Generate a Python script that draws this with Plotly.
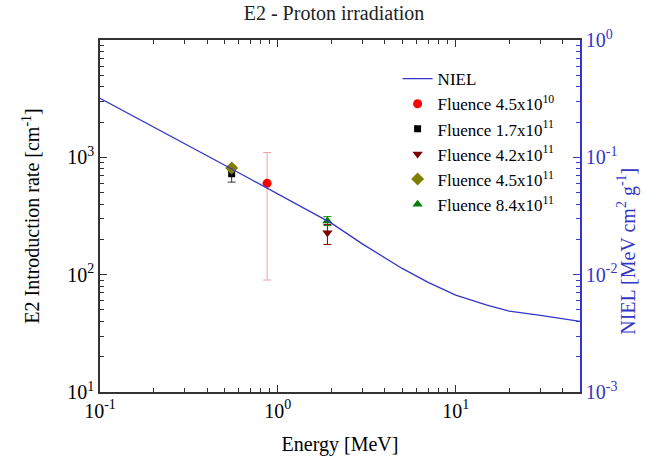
import math
import plotly.graph_objects as go

# NIEL curve for protons in Si (MeV cm^2 g^-1) versus proton energy (MeV)
niel_energy = [0.1, 0.2, 0.3, 0.5, 0.7, 1.0, 1.5, 2.0, 3.0, 4.0, 5.0, 7.0,
               10.0, 15.0, 20.0, 30.0, 40.0, 50.0]
niel_value = [0.3185, 0.180, 0.131, 0.086, 0.0653, 0.0487, 0.0351, 0.0275,
              0.0182, 0.0140, 0.0113, 0.0086, 0.0067, 0.0055, 0.0049,
              0.0045, 0.0042, 0.0040]

# Measured E2 introduction rates (cm^-1) for each fluence
fluence_names = ["Fluence 4.5x10<sup>10</sup>", "Fluence 1.7x10<sup>11</sup>",
                 "Fluence 4.2x10<sup>11</sup>", "Fluence 4.5x10<sup>11</sup>",
                 "Fluence 8.4x10<sup>11</sup>"]
fluence_energy = [0.87, 0.55, 1.90, 0.55, 1.90]
fluence_rate = [600, 725, 228, 810, 287]
fluence_err_plus = [500, 110, 40, 40, 25]
fluence_err_minus = [510, 110, 47, 40, 25]

marker_colors = ["#ff0000", "#000000", "#7a0000", "#808000", "#008000"]
error_colors = ["#e8a4a4", "#333333", "#7a0000", "#808000", "#008000"]
marker_symbols = ["circle", "square", "triangle-down", "diamond", "triangle-up"]
marker_sizes = [9, 7, 9, 10, 9]

blue = "#3535c8"
dark = "#333333"
font_family = "Liberation Serif"


def minor_values(lo_exp, hi_exp):
    """Positions of the 2..9 sub-decade ticks between two decades."""
    vals = []
    for e in range(lo_exp, hi_exp):
        for m in range(2, 10):
            vals.append(m * 10.0 ** e)
    return vals


fig = go.Figure()

fig.add_trace(go.Scatter(
    x=niel_energy, y=niel_value, mode="lines", name="NIEL",
    line=dict(color=blue, width=1.3), yaxis="y2",
))

for i, name in enumerate(fluence_names):
    fig.add_trace(go.Scatter(
        x=[fluence_energy[i]], y=[fluence_rate[i]], mode="markers", name=name,
        marker=dict(color=marker_colors[i], symbol=marker_symbols[i],
                    size=marker_sizes[i], line=dict(width=0)),
        error_y=dict(type="data", symmetric=False,
                     array=[fluence_err_plus[i]],
                     arrayminus=[fluence_err_minus[i]],
                     color=error_colors[i], thickness=1, width=4),
        yaxis="y",
    ))

tick_font = dict(family=font_family, size=20, color="#000000")
title_font = dict(family=font_family, size=20, color="#000000")

fig.update_layout(
    width=668, height=468,
    margin=dict(l=100, r=88, t=40, b=76),
    paper_bgcolor="white", plot_bgcolor="white",
    font=dict(family=font_family, size=18, color="#000000"),
    title=dict(text="E2 - Proton irradiation", x=0.5, xanchor="center",
               y=0.972, yanchor="middle",
               font=dict(family=font_family, size=20, color="#222222")),
    showlegend=True,
    legend=dict(x=0.62, y=0.94, xanchor="left", yanchor="top",
                bgcolor="rgba(0,0,0,0)", borderwidth=0,
                font=dict(family=font_family, size=17, color="#000000"),
                itemwidth=30, tracegroupgap=0),
    xaxis=dict(
        type="log", range=[-1, math.log10(50)],
        tickvals=[0.1, 1, 10],
        ticktext=["10<sup>-1</sup>", "10<sup>0</sup>", "10<sup>1</sup>"],
        ticks="inside", ticklen=7, tickwidth=1.2, tickcolor=dark,
        minor=dict(tickvals=minor_values(-1, 2), ticks="inside", ticklen=4,
                   tickwidth=1.2, tickcolor=dark, showgrid=False),
        showline=True, linecolor=dark, linewidth=1.5, mirror="ticks",
        showgrid=False, zeroline=False, tickfont=tick_font,
        title=dict(text="Energy [MeV]", standoff=16, font=title_font),
    ),
    yaxis=dict(
        type="log", range=[1, 4],
        tickvals=[10, 100, 1000],
        ticktext=["10<sup>1</sup>", "10<sup>2</sup>", "10<sup>3</sup>"],
        ticks="inside", ticklen=7, tickwidth=1.2, tickcolor=dark,
        minor=dict(tickvals=minor_values(1, 4), ticks="inside", ticklen=4,
                   tickwidth=1.2, tickcolor=dark, showgrid=False),
        showline=True, linecolor=dark, linewidth=1.5,
        showgrid=False, zeroline=False, tickfont=tick_font,
        title=dict(text="E2 Introduction rate [cm<sup>-1</sup>]", standoff=22,
                   font=title_font),
    ),
    yaxis2=dict(
        type="log", range=[-3, 0], overlaying="y", side="right",
        tickvals=[0.001, 0.01, 0.1, 1],
        ticktext=["10<sup>-3</sup>", "10<sup>-2</sup>", "10<sup>-1</sup>",
                  "10<sup>0</sup>"],
        ticks="inside", ticklen=7, tickwidth=1.2, tickcolor=blue,
        minor=dict(tickvals=minor_values(-3, 0), ticks="inside", ticklen=4,
                   tickwidth=1.2, tickcolor=blue, showgrid=False),
        showline=True, linecolor=blue, linewidth=1.5,
        showgrid=False, zeroline=False,
        tickfont=dict(family=font_family, size=20, color=blue),
    ),
    annotations=[dict(
        text="NIEL [MeV cm<sup>2</sup> g<sup>-1</sup>]", textangle=-90,
        xref="paper", yref="paper", x=1.097, y=0.40,
        xanchor="center", yanchor="middle", showarrow=False,
        font=dict(family=font_family, size=20, color=blue),
    )],
)

fig.write_html("out.html")
